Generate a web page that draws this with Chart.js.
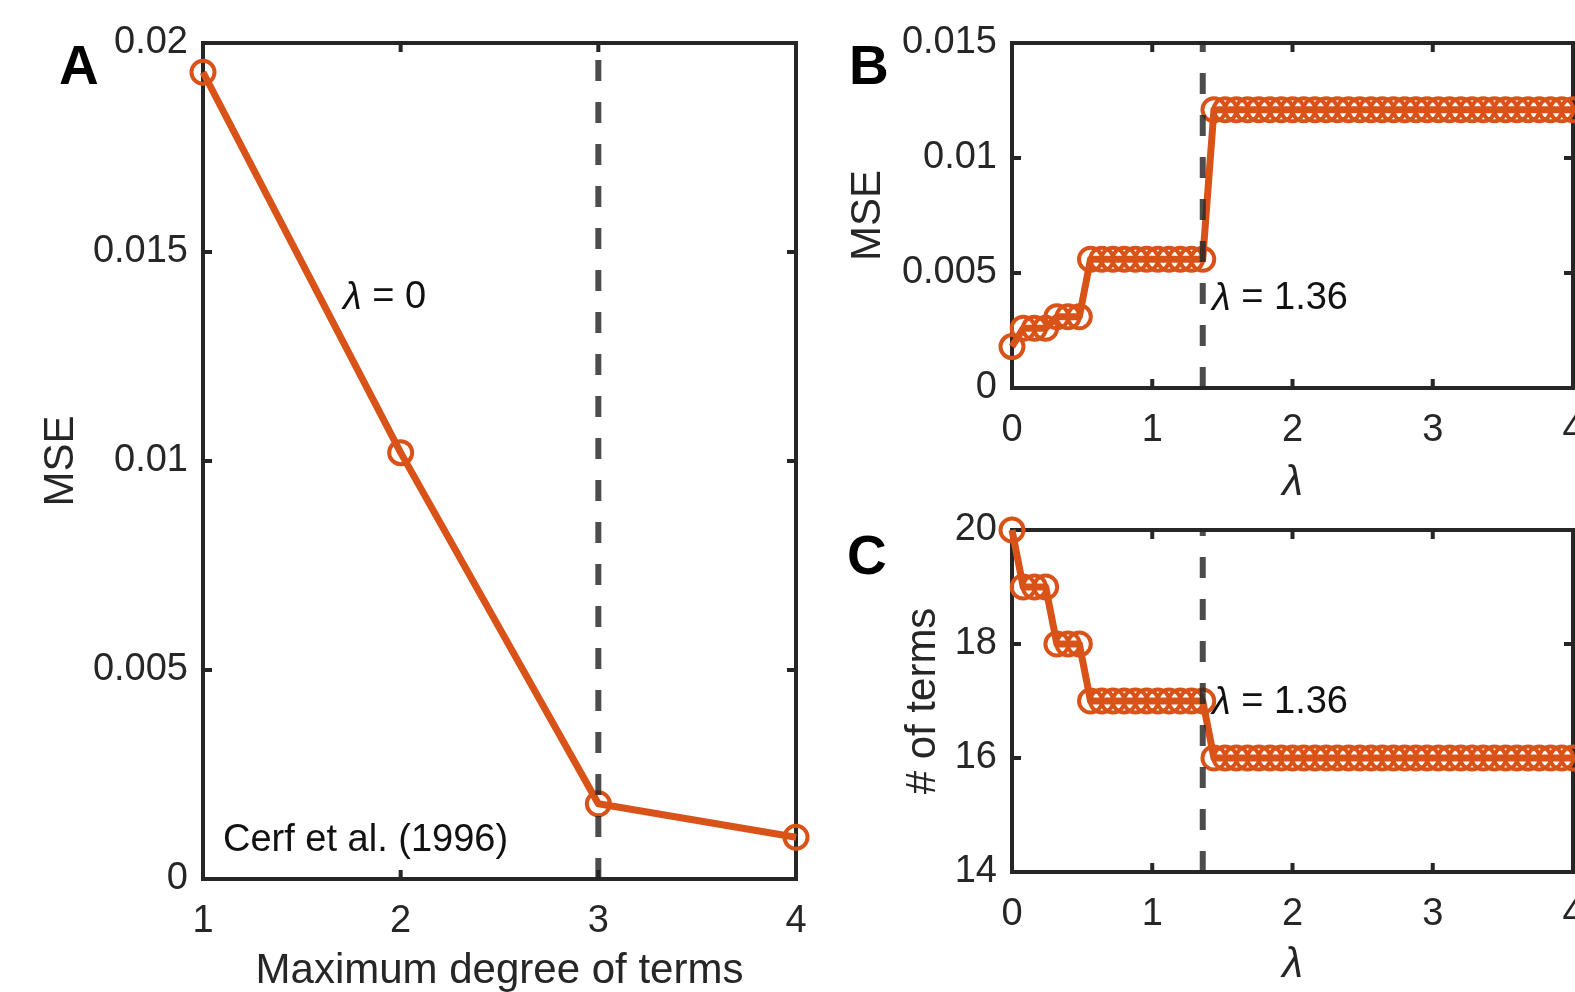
<!DOCTYPE html>
<html>
<head>
<meta charset="utf-8">
<script src="https://cdn.jsdelivr.net/npm/chart.js@4.4.1/dist/chart.umd.min.js"></script>
<style>
  html, body { margin: 0; padding: 0; background: #fff; }
  body { width: 1575px; height: 992px; overflow: hidden; position: relative; }
  canvas { position: absolute; }
</style>
</head>
<body>
<canvas id="chartA" width="840" height="992" style="left:0;top:0"></canvas>
<canvas id="chartB" width="800" height="510" style="left:830px;top:0"></canvas>
<canvas id="chartC" width="800" height="502" style="left:830px;top:490px"></canvas>
<script>
// panel A: fit error vs max polynomial degree
const degrees = [1, 2, 3, 4];
const mseByDegree = [0.0193, 0.0102, 0.0018, 0.0010];
const chosenDegree = 3;

// panels B and C: sweep over lambda
const lambdas = [0, 0.08, 0.16, 0.24, 0.32, 0.40, 0.48, 0.56, 0.64, 0.72, 0.80, 0.88, 0.96, 1.04, 1.12, 1.20, 1.28, 1.36,
  1.44, 1.52, 1.60, 1.68, 1.76, 1.84, 1.92, 2.00, 2.08, 2.16, 2.24, 2.32, 2.40, 2.48, 2.56, 2.64, 2.72, 2.80, 2.88, 2.96,
  3.04, 3.12, 3.20, 3.28, 3.36, 3.44, 3.52, 3.60, 3.68, 3.76, 3.84, 3.92, 4.00];
const mseByLambda = [0.0018, 0.0026, 0.0026, 0.0026, 0.0031, 0.0031, 0.0031,
  0.0056, 0.0056, 0.0056, 0.0056, 0.0056, 0.0056, 0.0056, 0.0056, 0.0056, 0.0056, 0.0056,
  0.0121, 0.0121, 0.0121, 0.0121, 0.0121, 0.0121, 0.0121, 0.0121, 0.0121, 0.0121, 0.0121,
  0.0121, 0.0121, 0.0121, 0.0121, 0.0121, 0.0121, 0.0121, 0.0121, 0.0121, 0.0121, 0.0121,
  0.0121, 0.0121, 0.0121, 0.0121, 0.0121, 0.0121, 0.0121, 0.0121, 0.0121, 0.0121, 0.0121];
const termsByLambda = [20, 19, 19, 19, 18, 18, 18,
  17, 17, 17, 17, 17, 17, 17, 17, 17, 17, 17,
  16, 16, 16, 16, 16, 16, 16, 16, 16, 16, 16,
  16, 16, 16, 16, 16, 16, 16, 16, 16, 16, 16,
  16, 16, 16, 16, 16, 16, 16, 16, 16, 16, 16];
const chosenLambda = 1.36;

// ticks
const degreeTicks = [1, 2, 3, 4];
const degreeTickLabels = ['1', '2', '3', '4'];
const mseTicksA = [0, 0.005, 0.01, 0.015, 0.02];
const mseTickLabelsA = ['0', '0.005', '0.01', '0.015', '0.02'];
const lambdaTicks = [0, 1, 2, 3, 4];
const lambdaTickLabels = ['0', '1', '2', '3', '4'];
const mseTicksB = [0, 0.005, 0.01, 0.015];
const mseTickLabelsB = ['0', '0.005', '0.01', '0.015'];
const termTicks = [14, 16, 18, 20];
const termTickLabels = ['14', '16', '18', '20'];

const fontFamily = '"Liberation Sans", Arial, Helvetica, sans-serif';
const axisColor = '#262626';
const lineColor = '#D95319';
const dashColor = 'rgba(38, 38, 38, 0.82)';

const matlabBox = {
    id: 'matlabBox',
    beforeDatasetsDraw(chart) {
        const { ctx, chartArea: a, scales: { x, y } } = chart;
        ctx.save();
        ctx.strokeStyle = axisColor;
        ctx.lineWidth = 4;
        ctx.strokeRect(a.left, a.top, a.right - a.left, a.bottom - a.top);
        ctx.beginPath();
        x.ticks.forEach(t => {
            const px = x.getPixelForValue(t.value);
            ctx.moveTo(px, a.bottom); ctx.lineTo(px, a.bottom - 9);
            ctx.moveTo(px, a.top); ctx.lineTo(px, a.top + 9);
        });
        y.ticks.forEach(t => {
            const py = y.getPixelForValue(t.value);
            ctx.moveTo(a.left, py); ctx.lineTo(a.left + 9, py);
            ctx.moveTo(a.right, py); ctx.lineTo(a.right - 9, py);
        });
        ctx.stroke();
        ctx.restore();
    },
    afterDraw(chart, args, opts) {
        const { ctx, scales: { x, y } } = chart;
        ctx.save();
        ctx.fillStyle = '#000';
        ctx.textBaseline = 'alphabetic';
        ctx.textAlign = 'left';
        ctx.font = 'bold 55px ' + fontFamily;
        ctx.fillText(opts.letter, opts.letterAt[0], opts.letterAt[1]);

        ctx.fillStyle = '#111';
        ctx.textBaseline = 'middle';
        (opts.notes || []).forEach(n => {
            let px = x.getPixelForValue(n.x);
            const py = y.getPixelForValue(n.y);
            n.parts.forEach(p => {
                ctx.font = (p.italic ? 'italic ' : '') + '38px ' + fontFamily;
                ctx.fillText(p.t, px, py);
                px += ctx.measureText(p.t).width;
            });
        });
        ctx.restore();
    }
};

function tickSetter(values) {
    return axis => { axis.ticks = values.map(v => ({ value: v })); };
}

function axis(min, max, ticks, labels, title, italic, titlePad, size, horizontal) {
    return {
        type: 'linear',
        min: min,
        max: max,
        afterBuildTicks: tickSetter(ticks),
        afterFit: s => { if (horizontal) s.height = size; else s.width = size; },
        grid: { display: false, drawTicks: false },
        border: { display: false },
        ticks: {
            callback: (v, i) => labels[i],
            color: axisColor,
            font: { family: fontFamily, size: 38 },
            padding: horizontal ? 20 : 15,
            maxRotation: 0,
            autoSkip: false
        },
        title: {
            display: true,
            text: title,
            color: axisColor,
            font: { family: fontFamily, size: 42, lineHeight: 1, style: italic ? 'italic' : 'normal' },
            padding: horizontal ? { top: 0, bottom: titlePad } : { top: titlePad, bottom: 0 }
        }
    };
}

function dataLine(xs, ys) {
    return {
        data: xs.map((v, i) => ({ x: v, y: ys[i] })),
        borderColor: lineColor,
        borderWidth: 7,
        borderJoinStyle: 'round',
        pointRadius: 11.5,
        pointBorderWidth: 4,
        pointBorderColor: lineColor,
        pointBackgroundColor: 'rgba(0,0,0,0)',
        tension: 0,
        clip: false
    };
}

function dashLine(xv, y0, y1) {
    return {
        data: [{ x: xv, y: y0 }, { x: xv, y: y1 }],
        borderColor: dashColor,
        borderWidth: 6,
        borderDash: [21, 21],
        borderCapStyle: 'butt',
        pointRadius: 0,
        clip: false
    };
}

function makeChart(id, datasets, scales, padding, boxOpts) {
    return new Chart(document.getElementById(id).getContext('2d'), {
        type: 'line',
        data: { datasets: datasets },
        options: {
            responsive: false,
            animation: false,
            devicePixelRatio: 1,
            layout: { padding: padding },
            plugins: {
                legend: { display: false },
                tooltip: { enabled: false },
                matlabBox: boxOpts
            },
            scales: scales
        },
        plugins: [matlabBox]
    });
}

document.addEventListener("DOMContentLoaded", () => {
    makeChart('chartA',
        [dashLine(chosenDegree, 0, 0.02), dataLine(degrees, mseByDegree)],
        {
            x: axis(1, 4, degreeTicks, degreeTickLabels, 'Maximum degree of terms', false, 0, 113, true),
            y: axis(0, 0.02, mseTicksA, mseTickLabelsA, 'MSE', false, 40, 203, false)
        },
        { left: 0, top: 43, right: 44, bottom: 0 },
        {
            letter: 'A', letterAt: [59, 84],
            notes: [
                { x: 1.708, y: 0.0139, parts: [{ t: 'λ', italic: true }, { t: ' = 0' }] },
                { x: 1.101, y: 0.00093, parts: [{ t: 'Cerf et al. (1996)' }] }
            ]
        });

    makeChart('chartB',
        [dashLine(chosenLambda, 0, 0.015), dataLine(lambdas, mseByLambda)],
        {
            x: axis(0, 4, lambdaTicks, lambdaTickLabels, 'λ', true, 6, 122, true),
            y: axis(0, 0.015, mseTicksB, mseTickLabelsB, 'MSE', false, 17, 182, false)
        },
        { left: 0, top: 43, right: 57, bottom: 0 },
        {
            letter: 'B', letterAt: [19, 84],
            notes: [{ x: 1.426, y: 0.00387, parts: [{ t: 'λ', italic: true }, { t: ' = 1.36' }] }]
        });

    makeChart('chartC',
        [dashLine(chosenLambda, 14, 20), dataLine(lambdas, termsByLambda)],
        {
            x: axis(0, 4, lambdaTicks, lambdaTickLabels, 'λ', true, 6, 120, true),
            y: axis(14, 20, termTicks, termTickLabels, '# of terms', false, 72, 182, false)
        },
        { left: 0, top: 40, right: 57, bottom: 0 },
        {
            letter: 'C', letterAt: [17, 84],
            notes: [{ x: 1.426, y: 16.965, parts: [{ t: 'λ', italic: true }, { t: ' = 1.36' }] }]
        });
});
</script>
</body>
</html>
